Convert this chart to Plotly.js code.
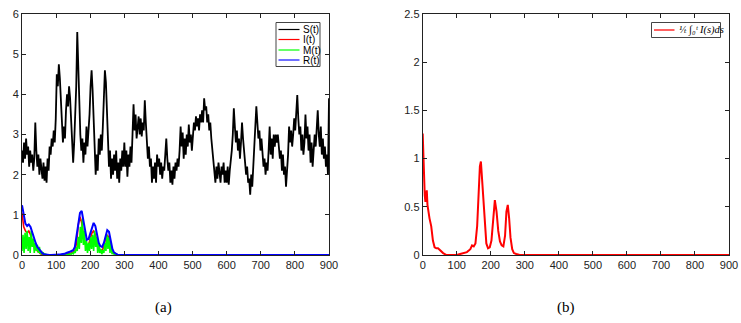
<!DOCTYPE html>
<html>
<head>
<meta charset="utf-8">
<script src="https://cdn.plot.ly/plotly-3.0.1.min.js"></script>
<style>
  html, body { margin: 0; padding: 0; background: #fff; }
  #chart { width: 741px; height: 323px; }
</style>
</head>
<body>
<div id="chart"></div>
<script>
// S(t), sampled every 3 time units from 0 to 900
const sVals = [
  2.6, 2.3, 2.8, 2.4, 2.9, 2.5, 2.7, 2.2, 2.6, 2.3,
  2.5, 2.1, 2.4, 3.3, 2.6, 2.2, 2.5, 2.0, 2.4, 2.1,
  1.9, 2.3, 1.85, 2.2, 1.8, 2.4, 2.1, 2.7, 2.5, 2.9,
  2.7, 3.1, 2.8, 3.4, 4.5, 4.2, 4.75, 4.4, 3.9, 3.4,
  2.8, 3.2, 2.9, 3.6, 4.0, 3.7, 4.2, 3.9, 3.3, 3.0,
  2.3, 2.8, 3.4, 4.2, 5.55, 4.6, 3.4, 3.0, 2.6, 2.9,
  2.3, 2.8, 2.5, 3.2, 2.7, 3.1, 3.5, 4.2, 4.6, 4.1,
  3.4, 2.8, 2.0, 2.5, 2.1, 2.9, 2.5, 3.0, 2.6, 3.2,
  3.8, 4.6, 4.3, 3.5, 2.9, 2.2, 2.6, 1.9, 2.4, 2.0,
  2.5, 2.1, 2.6, 1.9, 2.3, 1.8, 2.4, 2.1, 2.6, 2.2,
  2.8, 2.2, 2.6, 1.95, 2.5, 2.2, 2.7, 2.3, 3.0, 3.75,
  3.1, 3.5, 2.9, 3.3, 3.45, 3.0, 3.4, 2.95, 3.3, 3.1,
  3.85, 3.3, 2.9, 2.4, 2.7, 2.2, 2.4, 1.8, 2.2, 1.9,
  2.3, 1.8, 2.5, 2.2, 2.4, 2.0, 2.3, 1.9, 2.2, 2.1,
  2.5, 2.9, 2.4, 2.1, 2.3, 1.8, 2.1, 1.75, 2.2, 1.9,
  2.3, 2.1, 2.4, 2.2, 2.6, 3.2, 2.7, 3.05, 2.4, 2.9,
  2.5, 3.0, 2.7, 3.25, 2.8, 3.0, 2.6, 2.9, 3.3, 3.1,
  3.45, 3.2, 3.4, 3.1, 3.5, 3.3, 3.6, 3.3, 3.9, 3.6,
  3.7, 3.3, 3.5, 3.1, 3.3, 2.9, 2.6, 2.2, 2.0, 1.8,
  2.2, 1.9, 2.3, 2.0, 1.8, 2.2, 2.0, 2.3, 1.8, 2.1,
  1.8, 2.2, 1.75, 2.1, 2.3, 2.6, 3.0, 3.65, 3.2, 2.8,
  3.1, 2.6, 2.9, 2.4, 2.8, 3.3, 2.9, 2.5, 2.3, 2.0,
  2.2, 1.8, 1.9, 1.5, 2.0, 1.7, 2.3, 2.6, 3.2, 3.7,
  3.3, 2.9, 3.1, 2.6, 2.9, 2.5, 2.2, 2.4, 2.0, 2.3,
  2.1, 2.6, 3.2, 2.5, 2.9, 2.4, 3.0, 2.7, 3.0, 2.8,
  3.0, 2.7, 2.4, 2.6, 2.1, 2.5, 2.0, 2.2, 1.7, 2.1,
  2.5, 3.2, 2.8, 3.1, 2.7, 3.0, 3.4, 3.1, 3.6, 3.98,
  3.4, 3.0, 3.2, 2.6, 3.0, 2.5, 2.8, 3.5, 2.9, 3.2,
  2.6, 3.0, 2.3, 2.8, 2.2, 2.6, 3.0, 2.7, 3.3, 3.6,
  3.0, 2.7, 3.2, 2.5, 2.9, 2.4, 2.7, 2.2, 2.5, 2.0,
  3.9
];
const tS = sVals.map((_, i) => i * 3);

// I(t) and R(t), every 5 time units to 300, then flat to 900
const tIR = [0, 5, 10, 15, 20, 25, 30, 35, 40, 45, 50, 55, 60, 65, 70, 75, 80, 85, 90, 95,
  100, 105, 110, 115, 120, 125, 130, 135, 140, 145, 150, 155, 160, 165, 170, 175, 180, 185, 190, 195,
  200, 205, 210, 215, 220, 225, 230, 235, 240, 245, 250, 255, 260, 265, 270, 275, 280, 285, 290, 295,
  300, 900];
const iVals = [1.05, 0.7, 0.6, 0.55, 0.6, 0.5, 0.35, 0.25, 0.15, 0.1,
  0.06, 0.03, 0.01, 0, 0, 0, 0, 0, 0, 0,
  0, 0, 0, 0.01, 0.01, 0.02, 0.03, 0.03, 0.03, 0.05,
  0.06, 0.1, 0.3, 0.75, 0.95, 0.8, 0.5, 0.3, 0.2, 0.25,
  0.4, 0.55, 0.6, 0.5, 0.3, 0.18, 0.12, 0.12, 0.2, 0.42,
  0.5, 0.42, 0.2, 0.08, 0.03, 0.01, 0, 0, 0, 0,
  0, 0];
const rVals = [1.24, 0.95, 0.78, 0.72, 0.76, 0.7, 0.55, 0.42, 0.3, 0.2,
  0.14, 0.08, 0.04, 0.02, 0.01, 0, 0, 0, 0, 0,
  0, 0.01, 0.01, 0.02, 0.02, 0.03, 0.05, 0.06, 0.08, 0.1,
  0.12, 0.2, 0.45, 0.8, 1.05, 1.1, 0.85, 0.55, 0.38, 0.4,
  0.55, 0.7, 0.8, 0.72, 0.5, 0.3, 0.22, 0.2, 0.3, 0.5,
  0.62, 0.58, 0.35, 0.15, 0.06, 0.03, 0.01, 0, 0, 0,
  0, 0];

// M(t), every 3 time units from 0 to 300
const mVals = [
  0.1, 0.5, 0.05, 0.55, 0.15, 0.6, 0.1, 0.45, 0.05, 0.6,
  0.2, 0.4, 0.05, 0.3, 0.1, 0.25, 0.05, 0.2, 0.02, 0.1,
  0.02, 0.05, 0.01, 0.02, 0, 0, 0, 0, 0, 0,
  0, 0, 0, 0, 0, 0, 0, 0, 0, 0,
  0, 0, 0, 0.01, 0, 0.02, 0.01, 0.03, 0.02, 0.05,
  0.03, 0.08, 0.05, 0.2, 0.1, 0.45, 0.15, 0.7, 0.3, 0.9,
  0.25, 0.6, 0.1, 0.35, 0.05, 0.3, 0.1, 0.45, 0.15, 0.5,
  0.1, 0.6, 0.2, 0.45, 0.05, 0.3, 0.05, 0.15, 0.02, 0.12,
  0.05, 0.3, 0.1, 0.5, 0.15, 0.45, 0.05, 0.3, 0.02, 0.1,
  0.01, 0.04, 0, 0.01, 0, 0, 0, 0, 0, 0,
  0
];
const tM = mVals.map((_, i) => i * 3);

// (1/t) int_0^t I(s) ds, panel (b)
const tAvg = [0, 2, 4, 6, 8, 10, 12, 14, 16, 20, 25, 30, 35, 40, 45, 50, 55, 60, 65, 70,
  80, 90, 100, 110, 120, 130, 140, 145, 150, 155, 160, 165, 168, 171, 174, 178, 182, 187, 192, 197,
  202, 207, 212, 217, 222, 227, 232, 237, 242, 246, 250, 254, 258, 263, 268, 275, 285, 300, 900];
const avgVals = [1.26, 1.0, 0.8, 0.62, 0.55, 0.6, 0.67, 0.52, 0.45, 0.38, 0.3, 0.15, 0.08, 0.07, 0.07, 0.05, 0.03, 0.02, 0.01, 0,
  0, 0, 0, 0.01, 0.02, 0.03, 0.06, 0.1, 0.09, 0.12, 0.3, 0.72, 0.92, 0.97, 0.8, 0.55, 0.3, 0.12, 0.07, 0.08,
  0.15, 0.35, 0.57, 0.45, 0.25, 0.14, 0.1, 0.09, 0.2, 0.45, 0.52, 0.38, 0.18, 0.06, 0.02, 0.01, 0, 0, 0];

const W = 741, H = 323;
const px = x => x / W;
const py = y => (H - y) / H;

const sans = "'Liberation Sans', Arial, sans-serif";
const serif = "'Liberation Serif', 'DejaVu Serif', serif";

const traces = [
  { x: tS, y: sVals, type: 'scatter', mode: 'lines', name: 'S(t)',
    line: { color: '#000', width: 1.8 }, xaxis: 'x', yaxis: 'y' },
  { x: tIR, y: iVals, type: 'scatter', mode: 'lines', name: 'I(t)',
    line: { color: '#ff0000', width: 1.6 }, xaxis: 'x', yaxis: 'y' },
  { x: tM, y: mVals, type: 'scatter', mode: 'lines', name: 'M(t)',
    line: { color: '#00ff00', width: 1.6 }, xaxis: 'x', yaxis: 'y' },
  { x: tIR, y: rVals, type: 'scatter', mode: 'lines', name: 'R(t)',
    line: { color: '#0000ff', width: 2 }, xaxis: 'x', yaxis: 'y' },
  { x: tAvg, y: avgVals, type: 'scatter', mode: 'lines', name: 'avg I',
    line: { color: '#ff0000', width: 2 }, xaxis: 'x2', yaxis: 'y2' }
];

const axisStyle = {
  showline: true, linecolor: '#222', linewidth: 1, mirror: 'ticks',
  ticks: 'inside', ticklen: 4, tickcolor: '#222',
  showgrid: false, zeroline: false,
  tickfont: { family: sans, size: 11, color: '#222' }
};

const legFont = { family: sans, size: 10, color: '#000' };

// legend (a): entries drawn in paper space
const legA = [['S(t)', '#000', 29.5], ['I(t)', '#ff0000', 39.5], ['M(t)', '#00ff00', 50], ['R(t)', '#6f6fff', 60]];

const shapes = [
  { type: 'rect', xref: 'paper', yref: 'paper', x0: px(276), x1: px(320), y0: py(66.5), y1: py(22.5),
    line: { color: '#444', width: 1 }, fillcolor: '#fff' },
  { type: 'rect', xref: 'paper', yref: 'paper', x0: px(651.5), x1: px(720.5), y0: py(37.5), y1: py(22.5),
    line: { color: '#444', width: 1 }, fillcolor: '#fff' },
  { type: 'line', xref: 'paper', yref: 'paper', x0: px(654), x1: px(674.5), y0: py(30), y1: py(30),
    line: { color: '#ff6060', width: 2 } }
];
const annotations = [
  { text: '(a)', xref: 'paper', yref: 'paper', x: px(163), y: py(307), xanchor: 'center', yanchor: 'middle',
    showarrow: false, font: { family: serif, size: 15, color: '#000' } },
  { text: '(b)', xref: 'paper', yref: 'paper', x: px(566), y: py(307), xanchor: 'center', yanchor: 'middle',
    showarrow: false, font: { family: serif, size: 15, color: '#000' } },
  { text: '¹⁄ₜ ∫₀ᵗ I(s)ds',
    xref: 'paper', yref: 'paper', x: px(676.5), y: py(30), xanchor: 'left', yanchor: 'middle',
    showarrow: false, font: { family: serif, size: 10.5, color: '#000', style: 'italic' } }
];
legA.forEach(([label, color, y]) => {
  shapes.push({ type: 'line', xref: 'paper', yref: 'paper', x0: px(278.5), x1: px(299.5), y0: py(y), y1: py(y),
    line: { color: color, width: color === '#6f6fff' ? 2 : 1.2 } });
  annotations.push({ text: label, xref: 'paper', yref: 'paper', x: px(300.5), y: py(y),
    xanchor: 'left', yanchor: 'middle', showarrow: false, font: legFont });
});

const layout = {
  width: W, height: H,
  margin: { l: 0, r: 0, t: 0, b: 0 },
  font: { family: sans, size: 11, color: '#222' },
  paper_bgcolor: '#fff', plot_bgcolor: '#fff',
  showlegend: false,
  xaxis: Object.assign({}, axisStyle, { domain: [px(22), px(329)], range: [0, 900], tick0: 0, dtick: 100 }),
  yaxis: Object.assign({}, axisStyle, { domain: [py(255), py(14)], range: [0, 6], tick0: 0, dtick: 1 }),
  xaxis2: Object.assign({}, axisStyle, { domain: [px(422.7), px(729)], range: [0, 900], tick0: 0, dtick: 100, anchor: 'y2' }),
  yaxis2: Object.assign({}, axisStyle, { domain: [py(255), py(14)], range: [0, 2.5], tick0: 0, dtick: 0.5, anchor: 'x2' }),
  shapes: shapes,
  annotations: annotations
};

Plotly.newPlot('chart', traces, layout, { displayModeBar: false });
</script>
</body>
</html>
